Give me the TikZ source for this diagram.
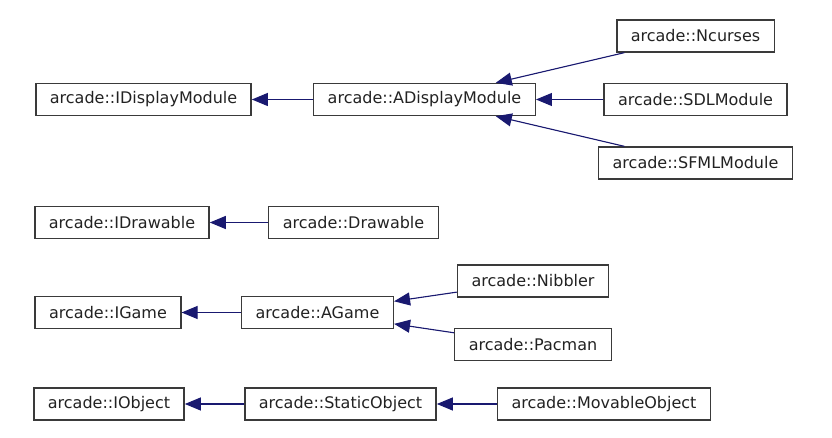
\documentclass[tikz,border=0pt]{standalone}
\usepackage{fontspec}
\setmainfont{DejaVu Sans}
\usetikzlibrary{arrows.meta}
\definecolor{edge}{HTML}{191970}
\definecolor{frame}{HTML}{3A3A3A}
\definecolor{label}{HTML}{222222}
\tikzset{cls/.style={draw=frame,line width=1.4pt,fill=white,text=label,inner xsep=14pt,minimum height=32pt,font=\fontsize{16}{19}\selectfont}, inh/.style={-{Triangle[length=16pt,width=13pt]},line width=1.1pt,draw=edge,fill=edge}}
\begin{document}
\begin{tikzpicture}[x=1pt,y=-1pt]
\useasboundingbox (0,0) rectangle (832,438);
% display modules
\node[cls](idm)at(143.5,99.5){arcade::IDisplayModule};\node[cls](adm)at(424.5,99.5){arcade::ADisplayModule};
\node[cls](ncu)at(695.5,36){arcade::Ncurses};\node[cls](sdl)at(695.5,99.5){arcade::SDLModule};\node[cls](sfm)at(695.5,163){arcade::SFMLModule};
\draw[inh](adm)--(idm);\draw[inh](ncu)--(adm);\draw[inh](sdl)--(adm);\draw[inh](sfm)--(adm);
% drawables
\node[cls](idr)at(122,222.5){arcade::IDrawable};\node[cls](drw)at(353.5,222.5){arcade::Drawable};
\draw[inh](drw)--(idr);
% games
\node[cls](igm)at(108,312.5){arcade::IGame};\node[cls](agm)at(317.5,312.5){arcade::AGame};
\node[cls](nib)at(533,281){arcade::Nibbler};\node[cls](pac)at(533,344.5){arcade::Pacman};
\draw[inh](agm)--(igm);\draw[inh](nib)--(agm);\draw[inh](pac)--(agm);
% objects
\node[cls](iob)at(109,404){arcade::IObject};\node[cls](sob)at(340.5,404){arcade::StaticObject};\node[cls](mob)at(604,404){arcade::MovableObject};
\draw[inh](sob)--(iob);\draw[inh](mob)--(sob);
\end{tikzpicture}
\end{document}
